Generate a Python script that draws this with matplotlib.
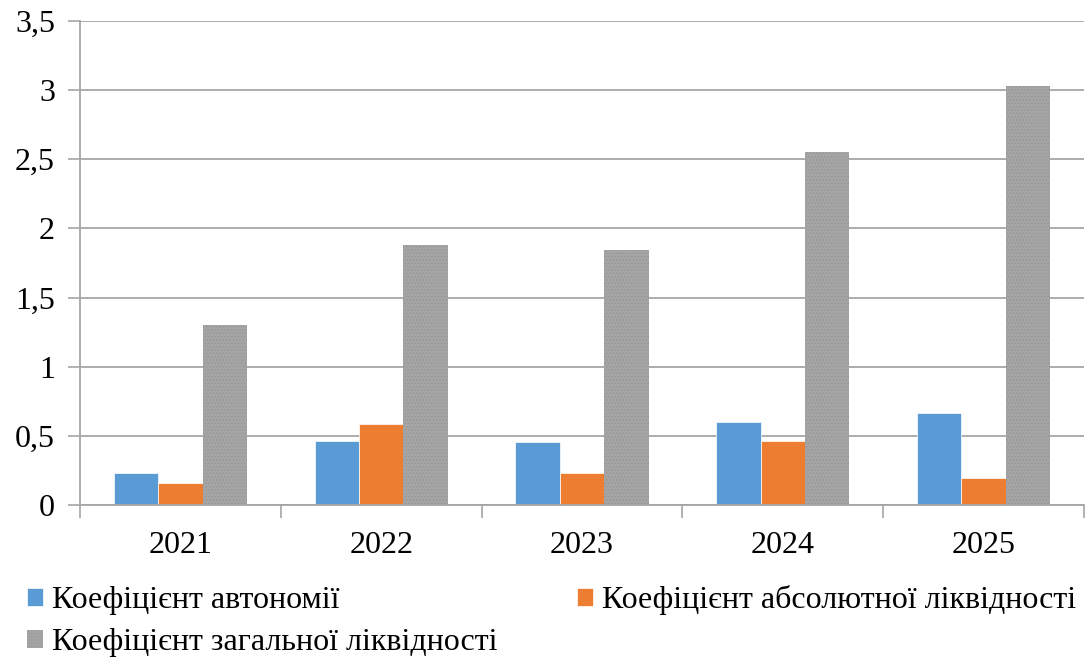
import matplotlib
matplotlib.use('Agg')
import matplotlib.pyplot as plt
from matplotlib.ticker import FuncFormatter, MultipleLocator
import numpy as np

plt.rcParams['font.family'] = ['Liberation Serif', 'DejaVu Serif']
plt.rcParams['hatch.linewidth'] = 0.6

years = ['2021', '2022', '2023', '2024', '2025']
series_names = ['Коефіцієнт автономії',
                'Коефіцієнт абсолютної ліквідності',
                'Коефіцієнт загальної ліквідності']
autonomy = [0.235, 0.465, 0.455, 0.60, 0.667]
abs_liq = [0.16, 0.585, 0.235, 0.465, 0.195]
total_liq = [1.30, 1.88, 1.845, 2.55, 3.03]
colors = ['#5B9BD5', '#ED7D31', '#A5A5A5']

fig = plt.figure(figsize=(10.9, 6.61), dpi=100)
ax = fig.add_axes([80 / 1090, 1 - 505 / 661, 1004 / 1090, 484 / 661])

x = np.arange(len(years))
w = 0.221
handles = []
for i, (vals, name) in enumerate(zip([autonomy, abs_liq, total_liq], series_names)):
    if i == 2:
        b = ax.bar(x + (i - 1) * w, vals, w, color=colors[i], label=name,
                   hatch='.....', edgecolor='#959595', linewidth=0)
    else:
        b = ax.bar(x + (i - 1) * w, vals, w, color=colors[i], label=name,
                   edgecolor='white', linewidth=0.5)
    handles.append(b)

ax.set_xlim(-0.5, len(years) - 0.5)
ax.set_ylim(0, 3.5)
ax.yaxis.set_major_locator(MultipleLocator(0.5))
ax.yaxis.set_major_formatter(FuncFormatter(lambda v, p: f'{v:g}'.replace('.', ',')))
ax.grid(axis='y', color='#A6A6A6', linewidth=1.3)
ax.set_axisbelow(True)

ax.set_xticks(x)
ax.set_xticklabels(years)
ax.set_xticks(np.arange(len(years) + 1) - 0.5, minor=True)
ax.tick_params(axis='x', which='major', length=0, pad=19, labelsize=23)
ax.tick_params(axis='x', which='minor', length=9, width=1.2, color='#A6A6A6')
ax.tick_params(axis='y', length=9, width=1.2, color='#A6A6A6', pad=9, labelsize=23)

for s in ['top', 'right']:
    ax.spines[s].set_visible(False)
for s in ['left', 'bottom']:
    ax.spines[s].set_color('#A6A6A6')
    ax.spines[s].set_linewidth(1.3)

# row-major order: first row autonomy + absolute, second row total
order = [0, 2, 1]
fig.legend([handles[k] for k in order], [series_names[k] for k in order],
           ncol=2, loc='upper left', bbox_to_anchor=(27 / 1090, 1 - 585 / 661),
           frameon=False, prop={'family': 'Liberation Serif', 'size': 23},
           handlelength=0.5, handleheight=0.5,
           handletextpad=0.28, columnspacing=2.5, labelspacing=0.42,
           borderpad=0, borderaxespad=0)

fig.savefig('out.png', dpi=100)
